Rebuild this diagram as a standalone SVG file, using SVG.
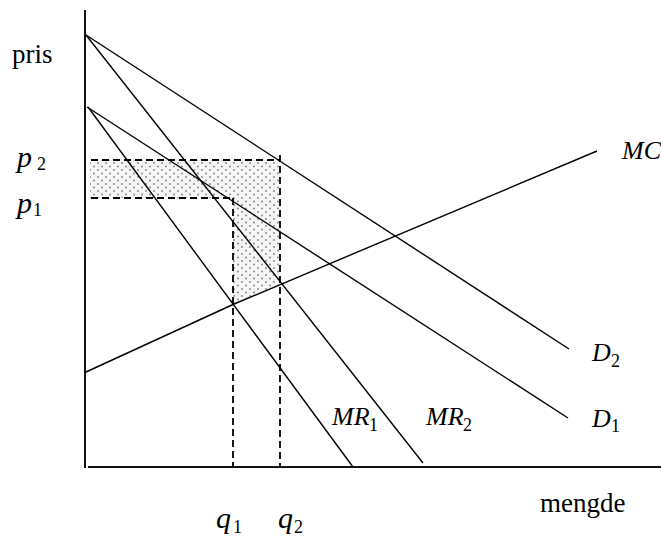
<svg xmlns="http://www.w3.org/2000/svg" width="661" height="539" viewBox="0 0 661 539">
<style>
.ax{stroke:#111;stroke-width:2;fill:none}
.ln{stroke:#000;stroke-width:1.4;fill:none}
.dash{stroke:#000;stroke-width:1.8;fill:none;stroke-dasharray:7 4}
text{font-family:"Liberation Serif","Times New Roman",serif;font-size:26px;fill:#000}
.big{font-size:27px}
.pq{font-size:30px;font-style:italic}
.it{font-style:italic}
.sub{font-size:18px;font-style:normal}
</style>
<defs>
<pattern id="dots" width="8" height="7" patternUnits="userSpaceOnUse">
<rect width="8" height="7" fill="#f6f6f6"/>
<circle cx="2" cy="2" r="0.9" fill="#808080"/>
<circle cx="6" cy="5.5" r="0.9" fill="#808080"/>
</pattern>
</defs>
<g id="shade">
<polygon points="90,160 280,160 280,284 233,304.5 233,198 90,198" fill="url(#dots)"/>
</g>
<g id="axes">
<line class="ax" x1="85" y1="10" x2="85" y2="468"/>
<line class="ax" x1="88" y1="467" x2="661" y2="467"/>
</g>
<g id="connectors">
<line id="D2" class="ln" x1="86" y1="35" x2="569" y2="349"/>
<line id="MR2" class="ln" x1="86" y1="35" x2="423" y2="463"/>
<line id="D1" class="ln" x1="87" y1="107" x2="568" y2="418"/>
<line id="MR1" class="ln" x1="88" y1="107" x2="353" y2="467"/>
<polyline id="MC" class="ln" points="86,372 233,304.5 597,151"/>
<line class="dash" x1="91" y1="160" x2="280" y2="160"/>
<line class="dash" x1="91" y1="198" x2="233" y2="198"/>
<line class="dash" x1="233" y1="198" x2="233" y2="467"/>
<line class="dash" x1="280" y1="155" x2="280" y2="467"/>
</g>
<g id="labels">
<text class="big" x="12" y="63">pris</text>
<text class="big" x="540" y="512">mengde</text>
<text class="pq" x="17" y="167">p<tspan class="sub" x="37" y="170">2</tspan></text>
<text class="pq" x="17" y="213">p<tspan class="sub" x="33" y="216">1</tspan></text>
<text class="pq" x="216" y="528">q<tspan class="sub" x="233" y="533">1</tspan></text>
<text class="pq" x="278" y="528">q<tspan class="sub" x="294" y="533">2</tspan></text>
<text class="it" x="622" y="159">MC</text>
<text class="it" x="592" y="361">D<tspan class="sub" x="611" y="367">2</tspan></text>
<text class="it" x="592" y="427">D<tspan class="sub" x="611" y="432">1</tspan></text>
<text class="it" x="332" y="425">MR<tspan class="sub" x="369" y="431">1</tspan></text>
<text class="it" x="426" y="425">MR<tspan class="sub" x="463" y="431">2</tspan></text>
</g>
</svg>
